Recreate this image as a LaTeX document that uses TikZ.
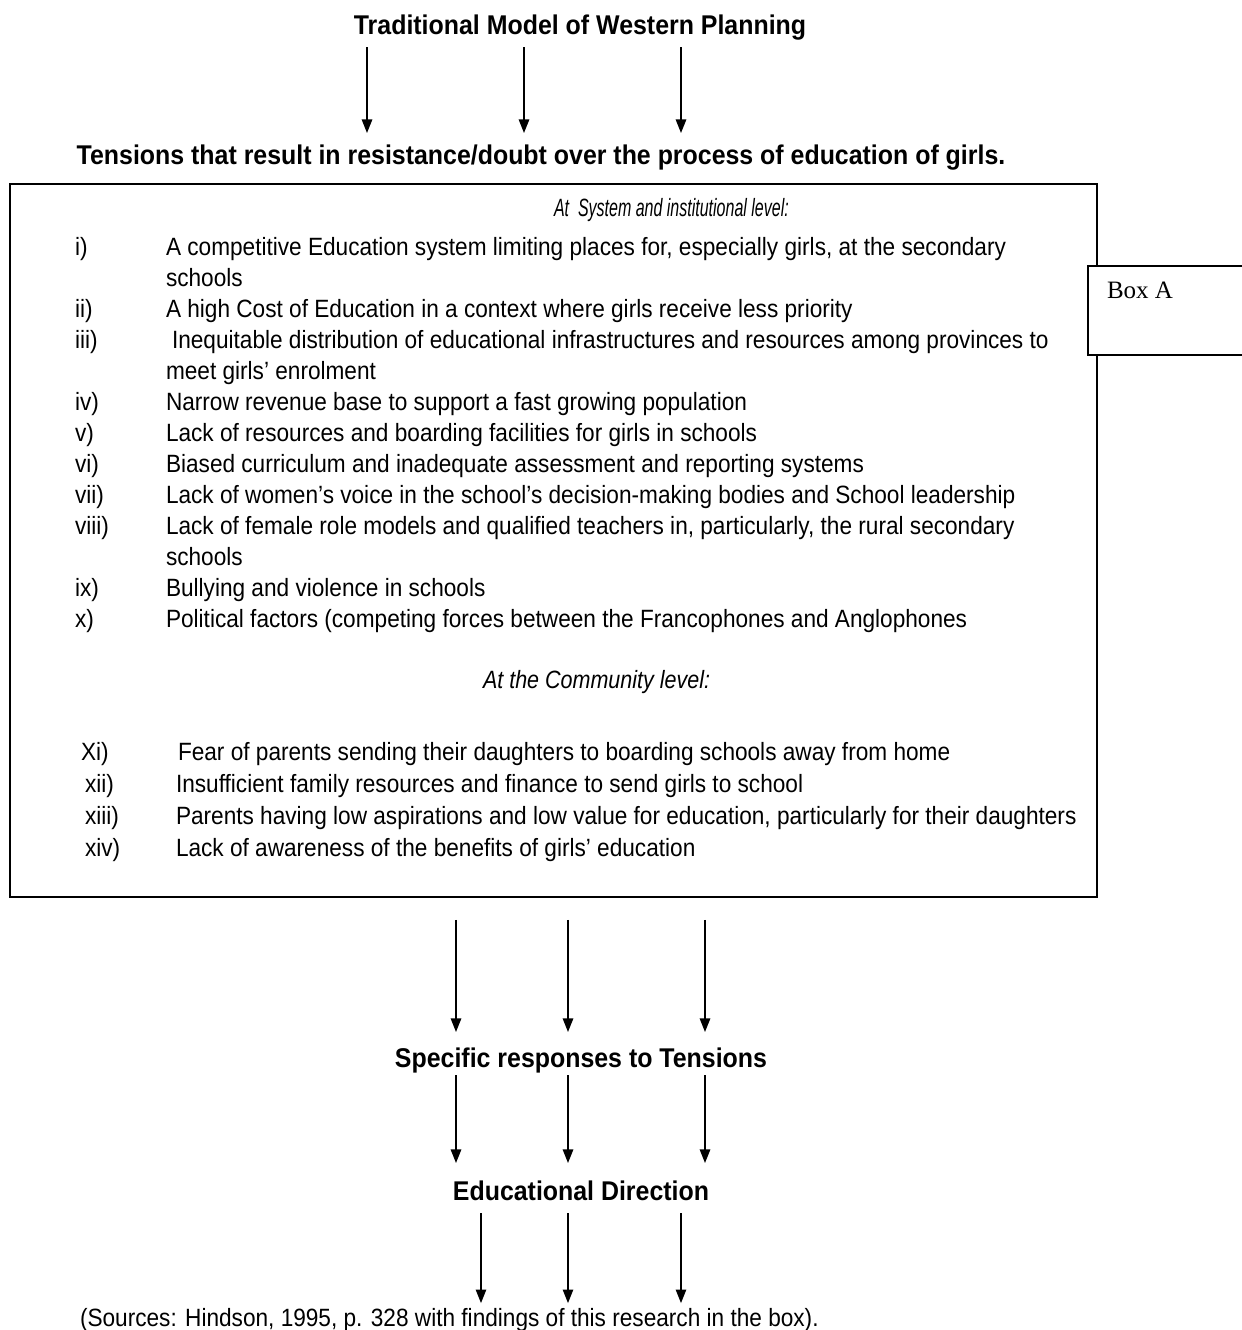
\documentclass[tikz,border=0pt]{standalone}
\usepackage{fontspec}
\setmainfont{Liberation Sans}[FakeStretch=0.905]
\newfontfamily\hdfont{Liberation Sans}[FakeStretch=0.92]
\newfontfamily\itsys{Liberation Sans}[FakeStretch=0.64]
\newfontfamily\itcom{Liberation Sans}[FakeStretch=0.86]
\newfontfamily\serifA{Liberation Serif}
\usetikzlibrary{arrows.meta}
\begin{document}
\begin{tikzpicture}[x=0.48pt,y=-0.48pt,
  every node/.style={inner sep=0pt, outer sep=0pt},
  hd/.style={anchor=base, font=\hdfont\fontsize{13pt}{15pt}\selectfont\bfseries, text height=9.3pt, text depth=2.7pt},
  txt/.style={anchor=base west, font=\fontsize{12pt}{14pt}\selectfont, text height=8.6pt, text depth=2.4pt},
  arr/.style={line width=0.7pt, -{Triangle[length=6.5pt,width=5pt]}},
  sa/.style={shorten <=3.55pt, shorten >=5.57pt},
  sb/.style={shorten <=11pt, shorten >=7.5pt},
  sc/.style={shorten <=1.15pt, shorten >=8.45pt},
  sd/.style={shorten <=3.55pt, shorten >=2.4pt},
  mainbox/.style={draw, line width=1pt, anchor=north west},
  boxA/.style={draw, fill=white, line width=0.6pt, anchor=north west}]
\useasboundingbox (0,0) rectangle (1241,1330);

% column positions for arrows
\coordinate (a1) at (367,0); \coordinate (a2) at (524,0); \coordinate (a3) at (681,0);
\coordinate (b1) at (456,0); \coordinate (b2) at (568,0); \coordinate (b3) at (705,0);
\coordinate (d1) at (481,0); \coordinate (d2) at (568,0); \coordinate (d3) at (681,0);

\node[hd] (title) at (580,34) {Traditional Model of Western Planning};
\node[hd] (tens) at (541,164) {Tensions that result in resistance/doubt over the process of education of girls.};

\node[mainbox, minimum width=521.8pt, minimum height=342.2pt] (main) at (10,184) {};
\node[boxA, minimum width=78pt, minimum height=42.7pt] (boxa) at (1088,266) {};
\node[anchor=base west, font=\serifA\fontsize{12pt}{14pt}\selectfont] (boxat) at (1107,298) {Box A};

\node[anchor=base west, font=\itsys\fontsize{12pt}{14pt}\selectfont\itshape] (sys) at (554,216) {At\ \ System and institutional level:};

\node[txt] (l1) at (75,255) {i)};
\node[txt] (t1) at (166,255) {A competitive Education system limiting places for, especially girls, at the secondary};
\node[txt] (t1b) at (166,286) {schools};
\node[txt] (l2) at (75,317) {ii)};
\node[txt] (t2) at (166,317) {A high Cost of Education in a context where girls receive less priority};
\node[txt] (l3) at (75,348) {iii)};
\node[txt] (t3) at (172,348) {Inequitable distribution of educational infrastructures and resources among provinces to};
\node[txt] (t3b) at (166,379) {meet girls’ enrolment};
\node[txt] (l4) at (75,410) {iv)};
\node[txt] (t4) at (166,410) {Narrow revenue base to support a fast growing population};
\node[txt] (l5) at (75,441) {v)};
\node[txt] (t5) at (166,441) {Lack of resources and boarding facilities for girls in schools};
\node[txt] (l6) at (75,472) {vi)};
\node[txt] (t6) at (166,472) {Biased curriculum and inadequate assessment and reporting systems};
\node[txt] (l7) at (75,503) {vii)};
\node[txt] (t7) at (166,503) {Lack of women’s voice in the school’s decision-making bodies and School leadership};
\node[txt] (l8) at (75,534) {viii)};
\node[txt] (t8) at (166,534) {Lack of female role models and qualified teachers in, particularly, the rural secondary};
\node[txt] (t8b) at (166,565) {schools};
\node[txt] (l9) at (75,596) {ix)};
\node[txt] (t9) at (166,596) {Bullying and violence in schools};
\node[txt] (l10) at (75,627) {x)};
\node[txt] (t10) at (166,627) {Political factors (competing forces between the Francophones and Anglophones};

\node[anchor=base west, font=\itcom\fontsize{12pt}{14pt}\selectfont\itshape] (comm) at (483,688) {At the Community level:};

\node[txt] (l11) at (81,760) {Xi)};
\node[txt] (t11) at (178,760) {Fear of parents sending their daughters to boarding schools away from home};
\node[txt] (l12) at (85,792) {xii)};
\node[txt] (t12) at (176,792) {Insufficient family resources and finance to send girls to school};
\node[txt] (l13) at (85,824) {xiii)};
\node[txt] (t13) at (176,824) {Parents having low aspirations and low value for education, particularly for their daughters};
\node[txt] (l14) at (85,856) {xiv)};
\node[txt] (t14) at (176,856) {Lack of awareness of the benefits of girls’ education};

\node[hd] (spec) at (581,1067) {Specific responses to Tensions};
\node[hd] (edu) at (581,1200) {Educational Direction};
\node[txt] (src) at (80,1326) {(Sources: Hindson, 1995, p. 328 with findings of this research in the box).};

\foreach \c in {a1,a2,a3} \draw[arr,sa] (title.south -| \c) -- (tens.north -| \c);
\foreach \c in {b1,b2,b3} \draw[arr,sb] (main.south -| \c) -- (spec.north -| \c);
\foreach \c in {b1,b2,b3} \draw[arr,sc] (spec.south -| \c) -- (edu.north -| \c);
\foreach \c in {d1,d2,d3} \draw[arr,sd] (edu.south -| \c) -- (src.north -| \c);
\end{tikzpicture}
\end{document}
